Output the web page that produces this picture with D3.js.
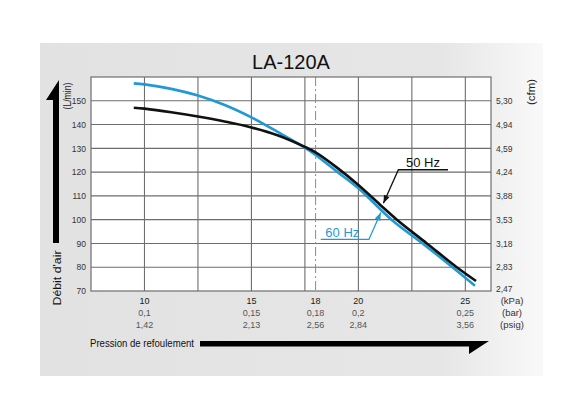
<!DOCTYPE html>
<html>
<head>
<meta charset="utf-8">
<script src="https://cdn.jsdelivr.net/npm/d3@7"></script>
<style>
  body { margin: 0; background: #fff; }
  svg { display: block; }
  text { font-family: "Liberation Sans", Arial, sans-serif; }
</style>
</head>
<body>
<svg width="580" height="420"></svg>
<script>
// Data (pressure in kPa, flow in L/min)
var kpa50 = [9.5, 10, 11.25, 12.5, 13.75, 15, 16.25, 17.5, 18, 19, 20, 21, 21.8, 23.2, 24.6, 25.5];
var flow50 = [147.1, 146.7, 145.2, 143.4, 141.3, 138.8, 135.4, 130.6, 128.3, 121.9, 114.6, 106.4, 100, 90, 80, 74.2];
var kpa60 = [9.5, 10, 11.25, 12.5, 13.75, 15, 16.25, 17.5, 18, 19, 20, 21.55, 23, 24.4, 25.45];
var flow60 = [157.3, 156.9, 155.0, 152.2, 148.2, 143.0, 136.8, 130.3, 127.2, 120.2, 113.2, 100, 90, 80, 72.2];

// axis labels
var flowTicks = [70, 80, 90, 100, 110, 120, 130, 140, 150];
var cfmLabels = ["2,47", "2,83", "3,18", "3,53", "3,88", "4,24", "4,59", "4,94", "5,30"];
var kpaTicks = [10, 15, 18, 20, 25];
var barLabels = ["0,1", "0,15", "0,18", "0,2", "0,25"];
var psigLabels = ["1,42", "2,13", "2,56", "2,84", "3,56"];
var gridKpa = [10, 12.5, 15, 17.5, 20, 22.5, 25];

var svg = d3.select("svg");

// background panel with fade on the right
var defs = svg.append("defs");
var grad = defs.append("linearGradient").attr("id", "bg");
grad.append("stop").attr("offset", "0%").attr("stop-color", "#e2e2e2");
grad.append("stop").attr("offset", "80%").attr("stop-color", "#e6e6e6");
grad.append("stop").attr("offset", "100%").attr("stop-color", "#f9f9f9");

svg.append("rect")
  .attr("x", 40).attr("y", 43)
  .attr("width", 503).attr("height", 333)
  .attr("fill", "url(#bg)");

// scales
var x = d3.scaleLinear().domain([7.5, 26.2]).range([91, 491]);
var y = d3.scaleLinear().domain([70, 160]).range([291, 77]);

const g = svg.append("g");

// plot area
g.append("rect")
  .attr("x", x(7.5)).attr("y", y(160))
  .attr("width", x(26.2) - x(7.5)).attr("height", y(70) - y(160))
  .attr("fill", "#fff");

// grid
g.selectAll(".hgrid")
  .data(flowTicks.slice(1))
  .enter().append("line")
  .attr("x1", x(7.5)).attr("x2", x(26.2))
  .attr("y1", d => y(d)).attr("y2", d => y(d))
  .attr("stroke", "#6e6e6e").attr("stroke-width", 1.1);

g.selectAll(".vgrid")
  .data(gridKpa)
  .enter().append("line")
  .attr("x1", d => x(d)).attr("x2", d => x(d))
  .attr("y1", y(160)).attr("y2", y(70))
  .attr("stroke", "#6e6e6e").attr("stroke-width", 1.1);

// dash-dot line at 18 kPa
g.append("line")
  .attr("x1", x(18)).attr("x2", x(18))
  .attr("y1", y(160)).attr("y2", y(70))
  .attr("stroke", "#8a8a8a").attr("stroke-width", 1)
  .attr("stroke-dasharray", "9,3,2,3");

g.append("rect")
  .attr("x", x(7.5)).attr("y", y(160))
  .attr("width", x(26.2) - x(7.5)).attr("height", y(70) - y(160))
  .attr("fill", "none").attr("stroke", "#6e6e6e").attr("stroke-width", 1.2);

// curves
var line = d3.line()
  .x(d => x(d[0]))
  .y(d => y(d[1]))
  .curve(d3.curveCatmullRom.alpha(0.5));

g.append("path")
  .datum(d3.zip(kpa60, flow60))
  .attr("d", line)
  .attr("fill", "none").attr("stroke", "#1f9ad6").attr("stroke-width", 2.6);

g.append("path")
  .datum(d3.zip(kpa50, flow50))
  .attr("d", line)
  .attr("fill", "none").attr("stroke", "#111").attr("stroke-width", 2.6);

// left axis
var leftAxis = svg.append("g")
  .attr("transform", "translate(" + x(7.5) + ",0)")
  .call(d3.axisLeft(y).tickValues(flowTicks).tickSize(0).tickPadding(5));
leftAxis.select(".domain").remove();
leftAxis.selectAll("text")
  .style("font-size", "8.5px").attr("fill", "#333")
  .style("font-family", "'Liberation Sans', Arial, sans-serif");

// right axis (cfm)
var rightAxis = svg.append("g")
  .attr("transform", "translate(" + x(26.2) + ",0)")
  .call(d3.axisRight(y).tickValues(flowTicks).tickSize(0).tickPadding(5)
    .tickFormat((d, i) => cfmLabels[i]));
rightAxis.select(".domain").remove();
rightAxis.selectAll("text")
  .style("font-size", "8.5px").attr("fill", "#333")
  .style("font-family", "'Liberation Sans', Arial, sans-serif")
  .attr("dy", d => d === 70 ? "0" : "0.32em");

// bottom labels: kPa / bar / psig
var rows = [
  { labels: kpaTicks.map(String), dy: 13, color: "#1a1a1a" },
  { labels: barLabels, dy: 25, color: "#555" },
  { labels: psigLabels, dy: 37, color: "#555" }
];
rows.forEach(function (r) {
  svg.selectAll(null)
    .data(kpaTicks)
    .enter().append("text")
    .attr("x", d => x(d))
    .attr("y", y(70) + r.dy)
    .attr("text-anchor", "middle")
    .attr("font-size", 9)
    .attr("fill", r.color)
    .text((d, i) => r.labels[i]);
});

var units = ["(kPa)", "(bar)", "(psig)"];
svg.selectAll(".unit")
  .data(units)
  .enter().append("text")
  .attr("x", 512)
  .attr("y", (d, i) => y(70) + 13 + i * 12)
  .attr("text-anchor", "middle")
  .attr("font-size", 9.5)
  .attr("fill", "#333")
  .text(d => d);

// title
svg.append("text")
  .attr("x", 291).attr("y", 69)
  .attr("text-anchor", "middle")
  .attr("font-size", 20)
  .attr("fill", "#111")
  .text("LA-120A");

// rotated axis titles
svg.append("text")
  .attr("transform", "translate(71,96) rotate(-90)")
  .attr("text-anchor", "middle")
  .attr("font-size", 11).attr("fill", "#222")
  .attr("textLength", 27).attr("lengthAdjust", "spacingAndGlyphs")
  .text("(L/min)");

svg.append("text")
  .attr("transform", "translate(535,92) rotate(-90)")
  .attr("text-anchor", "middle")
  .attr("font-size", 11).attr("fill", "#222")
  .attr("textLength", 26).attr("lengthAdjust", "spacingAndGlyphs")
  .text("(cfm)");

svg.append("text")
  .attr("transform", "translate(61,278) rotate(-90)")
  .attr("text-anchor", "middle")
  .attr("font-size", 11.5).attr("fill", "#111")
  .attr("textLength", 55).attr("lengthAdjust", "spacingAndGlyphs")
  .text("Débit d'air");

svg.append("text")
  .attr("x", 90).attr("y", 347)
  .attr("font-size", 11.5).attr("fill", "#111")
  .attr("textLength", 104).attr("lengthAdjust", "spacingAndGlyphs")
  .text("Pression de refoulement");

// big arrows
svg.append("path")
  .attr("d", "M200,341 L489,341 L469,354 L469,346.5 L200,346.5 Z")
  .attr("fill", "#000");
svg.append("path")
  .attr("d", "M59,80 L59,243 L53,243 L53,100 L46,100 Z")
  .attr("fill", "#000");

// annotations
function callout(sel, pts, label, tx, ty, color) {
  var lg = sel.append("g");
  lg.append("path")
    .attr("d", d3.line()(pts.map(p => [x(p[0]), y(p[1])])))
    .attr("fill", "none").attr("stroke", color).attr("stroke-width", 1.3);
  var a = [x(pts[pts.length - 1][0]), y(pts[pts.length - 1][1])];
  var b = [x(pts[pts.length - 2][0]), y(pts[pts.length - 2][1])];
  var ang = Math.atan2(a[1] - b[1], a[0] - b[0]);
  var L = 8, W = 3;
  var p1 = [a[0] - L * Math.cos(ang) + W * Math.sin(ang), a[1] - L * Math.sin(ang) - W * Math.cos(ang)];
  var p2 = [a[0] - L * Math.cos(ang) - W * Math.sin(ang), a[1] - L * Math.sin(ang) + W * Math.cos(ang)];
  lg.append("path")
    .attr("d", "M" + a + "L" + p1 + "L" + p2 + "Z")
    .attr("fill", color);
  lg.append("text")
    .attr("x", x(tx)).attr("y", y(ty))
    .attr("text-anchor", "middle")
    .attr("font-size", 13).attr("fill", color)
    .text(label);
}

callout(svg, [[24.19, 121.0], [21.87, 121.0], [21.17, 106.9]], "50 Hz", 23.02, 122.2, "#111");
callout(svg, [[18.24, 91.7], [20.49, 91.7], [21.05, 103.0]], "60 Hz", 19.25, 92.7, "#1f9ad6");
</script>
</body>
</html>
